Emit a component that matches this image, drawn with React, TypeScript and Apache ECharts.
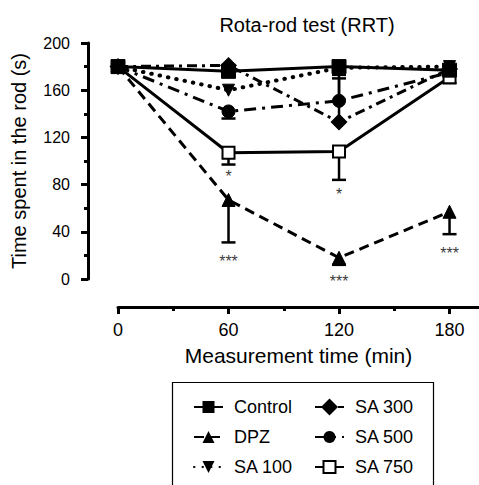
import React, { useEffect, useRef } from "react";
import * as echarts from "echarts";

const times = [0, 60, 120, 180];
const control = [180, 176, 180, 177];
const dpz = [180, 67, 18, 57];
const sa100 = [180, 160, 179, 180];
const sa300 = [180, 181, 133, 178];
const sa500 = [180, 142, 151, 175];
const sa750 = [180, 107, 108, 171];

// error bars: [time, mean, end]
const errorBars = [
  [60, 67, 31],
  [120, 18, 12],
  [180, 57, 38],
  [60, 142, 136],
  [120, 133, 173],
  [120, 151, 170],
  [60, 107, 97],
  [120, 108, 84],
  [180, 171, 166],
];

// significance annotations: [time, yPosition, text]
const annotations = [
  [60, 87, "*"],
  [120, 72, "*"],
  [60, 15, "***"],
  [120, -2, "***"],
  [180, 22, "***"],
];

const xMajorTicks = [0, 60, 120, 180];
const xMinorTicks = [30, 90, 150];

const legendColumns = [
  ["Control", "DPZ", "SA 100"],
  ["SA 300", "SA 500", "SA 750"],
];

const FONT = "Liberation Sans, Arial, Helvetica, sans-serif";

export default function App() {
  const ref = useRef<HTMLDivElement>(null);
  useEffect(() => {
    if (!ref.current) return;
    const chart = echarts.init(ref.current, null, { renderer: "svg" });
    const mk = (vals: number[]) => vals.map((v, i) => [times[i], v]);
    const baseLine = (name: string, vals: number[], symbol: string, type: any, extra: any = {}) => ({
      name,
      type: "line",
      data: mk(vals),
      symbol,
      symbolSize: 13,
      lineStyle: { color: "#000", width: 3, type, cap: "butt" },
      itemStyle: { color: "#000", borderColor: "#000" },
      z: 3,
      ...extra,
    });
    const colLeft = [193, 314];
    const rowTop = [398, 428, 458];
    const legends: any[] = [];
    legendColumns.forEach((col, ci) =>
      col.forEach((name, ri) =>
        legends.push({
          data: [name],
          orient: "horizontal",
          left: colLeft[ci],
          top: rowTop[ri],
          padding: 0,
          itemWidth: 29,
          itemHeight: 15,
          textStyle: { fontSize: 18, color: "#000", fontFamily: FONT, padding: [0, 0, 0, 6] },
        })
      )
    );
    chart.setOption({
      animation: false,
      textStyle: { fontFamily: FONT, color: "#000" },
      title: {
        text: "Rota-rod test (RRT)",
        left: 302,
        textAlign: "center",
        top: 10,
        textStyle: { fontFamily: FONT, fontSize: 20, fontWeight: "normal", color: "#000" },
      },
      grid: { left: 118, right: 0, top: 43, bottom: 206 },
      xAxis: [
        {
          type: "value",
          min: 0,
          max: 196,
          interval: 30,
          position: "bottom",
          offset: 28,
          axisLine: { show: true, onZero: false, lineStyle: { color: "#000", width: 3 } },
          axisTick: { show: true, customValues: xMajorTicks, length: 7, lineStyle: { color: "#000", width: 3 } },
          axisLabel: { customValues: xMajorTicks, fontSize: 18, color: "#000", margin: 14, fontFamily: FONT },
          splitLine: { show: false },
          name: "Measurement time (min)",
          nameLocation: "middle",
          nameGap: 38,
          nameTextStyle: { fontSize: 21, color: "#000", fontFamily: FONT },
        },
        {
          type: "value",
          min: 0,
          max: 196,
          interval: 30,
          position: "bottom",
          offset: 28,
          axisLine: { show: false, onZero: false },
          axisTick: { show: true, customValues: xMinorTicks, length: 4, lineStyle: { color: "#000", width: 3 } },
          axisLabel: { show: false },
          splitLine: { show: false },
        },
      ],
      yAxis: {
        type: "value",
        min: 0,
        max: 200,
        interval: 40,
        offset: 30,
        axisLine: { show: true, onZero: false, lineStyle: { color: "#000", width: 3 } },
        axisTick: { show: true, length: 7, lineStyle: { color: "#000", width: 3 } },
        minorTick: { show: true, splitNumber: 2, length: 4, lineStyle: { color: "#000", width: 3 } },
        axisLabel: { fontSize: 16, color: "#000", margin: 18, fontFamily: FONT },
        splitLine: { show: false },
        name: "Time spent in the rod (s)",
        nameLocation: "middle",
        nameGap: 59,
        nameTextStyle: { fontSize: 20, color: "#000", fontFamily: FONT },
      },
      legend: legends,
      graphic: [
        {
          type: "rect",
          shape: { x: 172.5, y: 382.5, width: 261, height: 110 },
          style: { fill: "none", stroke: "#000", lineWidth: 1.2 },
        },
      ],
      series: [
        {
          name: "errors",
          type: "custom",
          data: errorBars,
          z: 2,
          clip: false,
          renderItem: (params: any, api: any) => {
            const x = api.value(0);
            const p0 = api.coord([x, api.value(1)]);
            const p1 = api.coord([x, api.value(2)]);
            const st = { stroke: "#000", lineWidth: 2.5 };
            return {
              type: "group",
              children: [
                { type: "line", shape: { x1: p0[0], y1: p0[1], x2: p1[0], y2: p1[1] }, style: st },
                { type: "line", shape: { x1: p1[0] - 7, y1: p1[1], x2: p1[0] + 7, y2: p1[1] }, style: st },
              ],
            };
          },
        },
        baseLine("SA 100", sa100, "triangle", [1, 7], {
          symbolRotate: 180,
          symbolSize: 12,
          lineStyle: { color: "#000", width: 4, type: [0.5, 8], cap: "round" },
        }),
        baseLine("SA 300", sa300, "rect", [10, 5, 3, 5], { symbolRotate: 45, symbolSize: 11 }),
        baseLine("SA 500", sa500, "circle", [12, 6, 3, 6]),
        baseLine("DPZ", dpz, "triangle", [10, 6]),
        baseLine("SA 750", sa750, "rect", "solid", {
          symbolSize: 12,
          itemStyle: { color: "#fff", borderColor: "#000", borderWidth: 2 },
        }),
        baseLine("Control", control, "rect", "solid", { symbolSize: 14 }),
        {
          name: "stars",
          type: "scatter",
          data: annotations,
          symbolSize: 1,
          clip: false,
          itemStyle: { color: "rgba(0,0,0,0)" },
          label: {
            show: true,
            position: "inside",
            formatter: (p: any) => p.value[2],
            fontSize: 16,
            color: "#000",
            fontFamily: FONT,
          },
          z: 4,
        },
      ],
    });
    return () => chart.dispose();
  }, []);
  return (
    <div
      ref={ref}
      style={{ position: "fixed", left: 0, top: 0, width: 479, height: 485, background: "#fff" }}
    />
  );
}
